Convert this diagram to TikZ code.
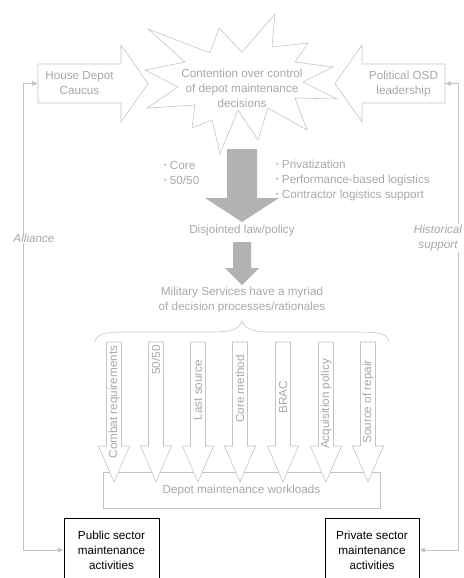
\documentclass[tikz,border=0pt]{standalone}
\usepackage{fontspec}
\setmainfont{Liberation Sans}
\usepackage{tikz}
\usetikzlibrary{arrows.meta}
\definecolor{greytext}{HTML}{A8A8A8}
\definecolor{greyline}{HTML}{C4C4C4}
\definecolor{greyfill}{HTML}{B2B2B2}
\newcommand{\dotitem}{\raisebox{1.2pt}{\fontsize{6}{6}\selectfont\textbullet}\ }

\begin{document}
\begin{tikzpicture}[x=0.03cm,y=-0.03cm,font=\fontsize{10}{12.8}\selectfont]
		\tikzstyle{outline} = [draw=greyline, line width=0.5pt, fill=white]
		\tikzstyle{body} = [text=greytext, align=center, inner sep=0pt]
		\tikzstyle{sector} = [draw, rectangle, align=center, line width=0.6pt, minimum width=2.85cm, minimum height=1.92cm]
		\tikzstyle{link} = [draw=greyline, line width=0.6pt, {Triangle[length=5pt,width=4pt]}-{Triangle[length=5pt,width=4pt]}]
		\tikzstyle{side} = [text=greytext, font=\fontsize{10}{12.8}\selectfont\itshape, fill=white, align=center, inner sep=1pt]

		\useasboundingbox (0,0) rectangle (463,578);

		% contention and the two pushing sides
		\draw[outline] (148,29) -- (210,53) -- (219,28) -- (242,52) -- (275,14) -- (272,47) -- (308,43) -- (295,62) -- (333,67) -- (303,82) -- (337,99) -- (295,98) -- (307,130) -- (268,108) -- (258,140) -- (238,110) -- (220,154) -- (212,120) -- (192,128) -- (195,105) -- (147,108) -- (178,87) -- (145,70) -- (185,62) -- cycle;
		\node [body] (contention) at (242,88) {Contention over control\\of depot maintenance\\decisions};
		\draw[outline] (38,64) -- (121,64) -- (121,45) -- (148,83.5) -- (121,122) -- (121,103) -- (38,103) -- cycle;
		\node [body, minimum width=2.49cm, minimum height=1.17cm] (house) at (79.5,83.5) {House Depot\\Caucus};
		\draw[outline] (445,64) -- (362,64) -- (362,45) -- (335,83.5) -- (362,122) -- (362,103) -- (445,103) -- cycle;
		\node [body, minimum width=2.49cm, minimum height=1.17cm] (pol) at (403.5,83.5) {Political OSD\\leadership};

		% law and policy
		\fill[greyfill] (227,149) -- (257,149) -- (257,198) -- (279,198) -- (242,222) -- (205,198) -- (227,198) -- cycle;
		\node [body, align=left, anchor=west] (public) at (164,172.5) {\dotitem Core\\\dotitem 50/50};
		\node [body, align=left, anchor=west] (private) at (276,180) {\dotitem Privatization\\\dotitem Performance-based logistics\\\dotitem Contractor logistics support};
		\node [body] (law) at (242,230) {Disjointed law/policy};
		\fill[greyfill] (233,242) -- (251,242) -- (251,268) -- (259,268) -- (242,285) -- (225,268) -- (233,268) -- cycle;
		\node [body] (services) at (242,300) {Military Services have a myriad\\of decision processes/rationales};
		\draw[greyline, line width=0.5pt] (95,342) .. controls (97,333) and (105,332) .. (130,332) -- (212,332) .. controls (234,332) and (240,328) .. (242,321) .. controls (244,328) and (250,332) .. (272,332) -- (354,332) .. controls (379,332) and (387,333) .. (389,342);

		% rationales into workloads
		\node [body, draw=greyline, line width=0.5pt, minimum width=8.31cm, minimum height=1.08cm] (work) at (241.5,490) {Depot maintenance workloads};
		\foreach \cx/\ly/\lab [count=\i] in {114/402/Combat requirements, 156/360/{50/50}, 198/390/Last source, 240/389/Core method, 283/397/BRAC, 326/404/Acquisition policy, 368/402/Source of repair} {
			\draw[outline] (\cx-7.5,342) -- (\cx+7.5,342) -- (\cx+7.5,446) -- (\cx+15.5,446) -- (\cx,482) -- (\cx-15.5,446) -- (\cx-7.5,446) -- cycle;
			\node [body, rotate=90] (rat\i) at (\cx,\ly) {\lab};
		}

		% sectors
		\node [sector] (pub) at (111.5,550) {Public sector\\maintenance\\activities};
		\node [sector, minimum width=2.82cm] (priv) at (372,550) {Private sector\\maintenance\\activities};

		\coordinate (lup) at (23,83.5);
		\coordinate (ldown) at (23,550);
		\draw[link] (house.west) -- (lup) -- (ldown) -- (pub.west);
		\coordinate (rup) at (458,83.5);
		\coordinate (rdown) at (458,550);
		\draw[link] (pol.east) -- (rup) -- (rdown) -- (priv.east);
		\node [side] (alliance) at (34,238) {Alliance};
		\node [side] (historical) at (438,238) {Historical\\support};
	\end{tikzpicture}
\end{document}
